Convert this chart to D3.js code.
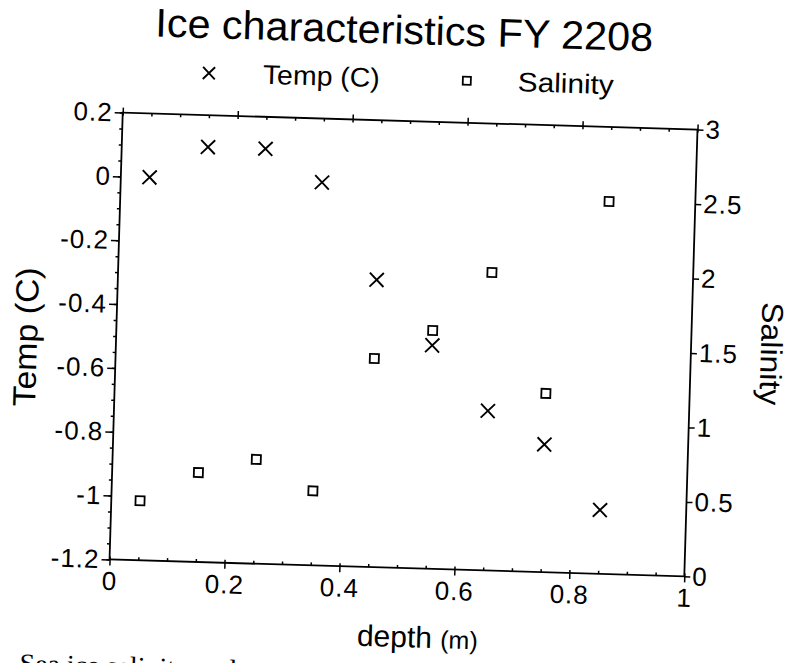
<!DOCTYPE html>
<html>
<head>
<meta charset="utf-8">
<script src="https://cdn.jsdelivr.net/npm/d3@7"></script>
<style>
  body { margin: 0; background: #fff; }
  svg { display: block; }
  text { font-family: "Liberation Sans", Arial, Helvetica, sans-serif; fill: #000; }
</style>
</head>
<body>
<script>
// sample depths (m) and measured values
const depth = [0.05, 0.15, 0.25, 0.35, 0.45, 0.55, 0.65, 0.75, 0.85];
const temp = [0, 0.1, 0.1, 0, -0.3, -0.5, -0.7, -0.8, -1.0];
const salinity = [0.4, 0.6, 0.7, 0.5, 1.4, 1.6, 2.0, 1.2, 2.5];

const xTicks = [0, 0.2, 0.4, 0.6, 0.8, 1];
const tempTicks = [0.2, 0, -0.2, -0.4, -0.6, -0.8, -1, -1.2];
const salTicks = [0, 0.5, 1, 1.5, 2, 2.5, 3];

const width = 794, height = 663;
const plotL = 116, plotR = 691, plotT = 121, plotB = 568;

const svg = d3.select("body").append("svg")
    .attr("width", width)
    .attr("height", height);

// the scanned page sits slightly skewed
const g = svg.append("g").attr("transform", "rotate(1.69,404,345)");

const x = d3.scaleLinear().domain([0, 1]).range([plotL, plotR]);
const yT = d3.scaleLinear().domain([-1.2, 0.2]).range([plotB, plotT]);
const yS = d3.scaleLinear().domain([0, 3]).range([plotB, plotT]);

const minorX = d3.range(0, 1.0001, 0.05);
const minorT = d3.range(-1.2, 0.2001, 0.05);

function styleAxis(sel, size) {
    sel.select(".domain").remove();
    sel.selectAll("line").attr("stroke", "#000").attr("stroke-width", 1.5);
    sel.selectAll("text").style("font-size", size + "px")
        .style("letter-spacing", "1px")
        .style("font-family", "'Liberation Sans', Arial, sans-serif");
}

// minor ticks
g.append("g").attr("transform", `translate(0,${plotB})`)
    .call(d3.axisBottom(x).tickValues(minorX).tickSize(-3).tickFormat(""))
    .call(s => styleAxis(s, 0));
g.append("g").attr("transform", `translate(0,${plotT})`)
    .call(d3.axisTop(x).tickValues(minorX).tickSize(-3).tickFormat(""))
    .call(s => styleAxis(s, 0));
g.append("g").attr("transform", `translate(${plotL},0)`)
    .call(d3.axisLeft(yT).tickValues(minorT).tickSize(3).tickFormat(""))
    .call(s => styleAxis(s, 0));

// major ticks + labels
g.append("g").attr("transform", `translate(0,${plotB})`)
    .call(d3.axisBottom(x).tickValues(xTicks).tickSize(6).tickPadding(6)
        .tickFormat(d => String(+d.toFixed(1))))
    .call(s => styleAxis(s, 26));
g.append("g").attr("transform", `translate(0,${plotT})`)
    .call(d3.axisTop(x).tickValues(xTicks).tickSize(5).tickFormat(""))
    .call(s => styleAxis(s, 0));
g.append("g").attr("transform", `translate(${plotL},0)`)
    .call(d3.axisLeft(yT).tickValues(tempTicks).tickSize(8).tickPadding(2)
        .tickFormat(d => String(+d.toFixed(1))))
    .call(s => styleAxis(s, 26));
g.append("g").attr("transform", `translate(${plotR},0)`)
    .call(d3.axisRight(yS).tickValues(salTicks).tickSize(6).tickPadding(2)
        .tickFormat(d => String(d)))
    .call(s => styleAxis(s, 26));

// frame
g.append("rect")
    .attr("x", plotL).attr("y", plotT)
    .attr("width", plotR - plotL).attr("height", plotB - plotT)
    .attr("fill", "none").attr("stroke", "#000").attr("stroke-width", 1.8);

// markers
const cross = (sel, s) => sel.append("path")
    .attr("d", `M${-s},${-s}L${s},${s}M${-s},${s}L${s},${-s}`)
    .attr("stroke", "#000").attr("stroke-width", 1.9).attr("fill", "none");
const square = (sel, s) => sel.append("rect")
    .attr("x", -s / 2).attr("y", -s / 2).attr("width", s).attr("height", s)
    .attr("stroke", "#000").attr("stroke-width", 1.8).attr("fill", "none");

g.append("g").selectAll("g")
    .data(depth.map((d, i) => [d, temp[i]]))
    .join("g")
    .attr("transform", d => `translate(${x(d[0])},${yT(d[1])})`)
    .each(function() { cross(d3.select(this), 7); });

g.append("g").selectAll("g")
    .data(depth.map((d, i) => [d, salinity[i]]))
    .join("g")
    .attr("transform", d => `translate(${x(d[0])},${yS(d[1])})`)
    .each(function() { square(d3.select(this), 9); });

// title
g.append("text")
    .attr("x", 395).attr("y", 44)
    .attr("text-anchor", "middle")
    .attr("textLength", 498).attr("lengthAdjust", "spacingAndGlyphs")
    .style("font-size", "40px")
    .text("Ice characteristics FY 2208");

// legend
cross(g.append("g").attr("transform", "translate(201,79)"), 6);
g.append("text").attr("x", 255).attr("y", 88)
    .attr("textLength", 117).attr("lengthAdjust", "spacingAndGlyphs")
    .style("font-size", "27px").text("Temp (C)");
square(g.append("g").attr("transform", "translate(459,79)"), 8);
g.append("text").attr("x", 510).attr("y", 88)
    .attr("textLength", 96).attr("lengthAdjust", "spacingAndGlyphs")
    .style("font-size", "27px").text("Salinity");

// axis titles
g.append("text")
    .attr("transform", "translate(37,348) rotate(-90)")
    .attr("text-anchor", "middle")
    .attr("textLength", 139).attr("lengthAdjust", "spacingAndGlyphs")
    .style("font-size", "32px").text("Temp (C)");
g.append("text")
    .attr("transform", "translate(761,343) rotate(90)")
    .attr("text-anchor", "middle")
    .attr("textLength", 103).attr("lengthAdjust", "spacingAndGlyphs")
    .style("font-size", "30px").text("Salinity");
const xl = g.append("text")
    .attr("x", 426).attr("y", 647)
    .attr("text-anchor", "middle");
xl.append("tspan").style("font-size", "30px").text("depth ");
xl.append("tspan").style("font-size", "25px").text("(m)");

// caption cut off by the page edge
g.append("text")
    .attr("x", 29).attr("y", 684)
    .style("font-family", "'Liberation Serif', 'Times New Roman', serif")
    .style("font-size", "28px")
    .text("Sea ice salinity and");
</script>
</body>
</html>
